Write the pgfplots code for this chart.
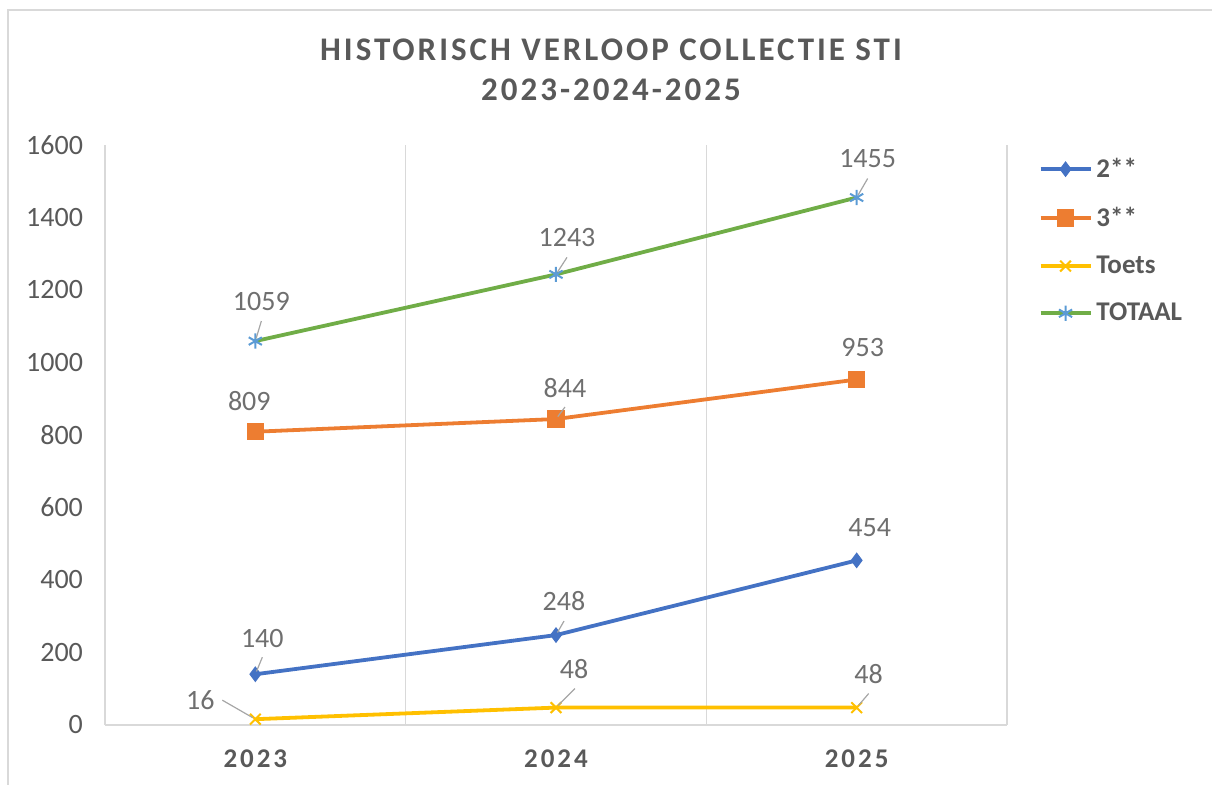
\documentclass[border=0pt]{standalone}
\usepackage{pgfplots}
\pgfplotsset{compat=1.18}
\usepackage{pgfplotstable}
\usepackage{fontspec}
\setmainfont{Carlito}
\newfontfamily\titlefont[LetterSpace=9]{Carlito}
\newfontfamily\xfont[LetterSpace=11]{Carlito}
\usetikzlibrary{calc}
\definecolor{txtgray}{HTML}{595959}
\definecolor{lblgray}{HTML}{6F6F6F}
\definecolor{leadgray}{HTML}{A6A6A6}
\definecolor{gridgray}{HTML}{D9D9D9}
\definecolor{cblue}{HTML}{4472C4}
\definecolor{corange}{HTML}{ED7D31}
\definecolor{cyellow}{HTML}{FFC000}
\definecolor{cgreen}{HTML}{70AD47}
\definecolor{cstar}{HTML}{5B9BD5}

% x y : data ; dx dy : label offset (pt) ; px py : point rel. to label ; lx ly : leader end rel. to label ; ld : leader visible
\pgfplotstableread{
x y dx dy px py lx ly ld
0 140 3.5 18 -3.5 -18 0 -9.5 1
1 248 4 17 -4 -17 0 -10 1
2 454 6.5 16.5 -6.5 -16.5 0 -9 0
}\twostar
\pgfplotstableread{
x y dx dy px py lx ly ld
0 809 -3 15.5 3 -15.5 0 -9 0
1 844 4.5 15.5 -4.5 -15.5 0 -9.5 1
2 953 3 16 -3 -16 0 -9 0
}\threestar
\pgfplotstableread{
x y dx dy px py lx ly ld
0 16 -27.5 9.5 27.5 -9.5 11 0 1
1 48 9 19.5 -9 -19.5 0.5 -10 1
2 48 6 17 -6 -17 0 -10 1
}\toets
\pgfplotstableread{
x y dx dy px py lx ly ld
0 1059 3 20 -3 -20 0 -10 1
1 1243 5.5 18.5 -5.5 -18.5 0 -10 1
2 1455 5.5 19.5 -5.5 -19.5 0 -10 1
}\totaal

\pgfplotsset{
  lbl/.style={
    nodes near coords,
    nodes near coords align=center,
    visualization depends on={\thisrow{dx} \as \ldx},
    visualization depends on={\thisrow{dy} \as \ldy},
    visualization depends on={\thisrow{px} \as \lpx},
    visualization depends on={\thisrow{py} \as \lpy},
    visualization depends on={\thisrow{lx} \as \llx},
    visualization depends on={\thisrow{ly} \as \lly},
    visualization depends on={\thisrow{ld} \as \lld},
    every node near coord/.append style={anchor=center, xshift=\ldx pt, yshift=\ldy pt,
      text=lblgray, font=\fontsize{14}{16}\selectfont, inner sep=0pt,
      append after command={(\tikzlastnode.center) ++(\lpx pt,\lpy pt)
        edge[draw=leadgray, line width=0.6pt, draw opacity=\lld, shorten <=1.5pt]
        ($(\tikzlastnode.center)+(\llx pt,\lly pt)$)}},
  },
}

\begin{document}
\begin{tikzpicture}
\path[use as bounding box] (-52.5pt,-30pt) rectangle (553.5pt,362.5pt);
\draw[gridgray, line width=0.6pt] (-48.5pt,-40pt) -- (-48.5pt,357.5pt) -- (560pt,357.5pt);
\node[anchor=base, text=txtgray, font=\fontsize{16.5}{20}\selectfont\titlefont\bfseries] at (253pt,332pt) {HISTORISCH VERLOOP COLLECTIE STI};
\node[anchor=base, text=txtgray, font=\fontsize{16.5}{20}\selectfont\titlefont\bfseries] at (253pt,312pt) {2023-2024-2025};
\begin{axis}[
  at={(0pt,0pt)}, anchor=south west,
  scale only axis, width=451pt, height=290pt,
  xmin=-0.5, xmax=2.5, ymin=0, ymax=1600,
  xtick={0,1,2}, xticklabels={2023,2024,2025},
  minor xtick={-0.5,0.5,1.5,2.5},
  xminorgrids,
  minor grid style={gridgray, line width=0.75pt},
  ytick={0,200,...,1600},
  extra y ticks={0}, extra y tick labels={},
  extra y tick style={grid=major, major grid style={gridgray, line width=0.75pt}},
  major tick length=0pt, minor tick length=0pt,
  axis line style={draw=none},
  /pgf/number format/assume math mode=true,
  /pgf/number format/1000 sep={},
  yticklabel style={font=\fontsize{14}{16}\selectfont, text=txtgray, xshift=-7.5pt},
  xticklabel style={font=\fontsize{13.5}{16}\selectfont\xfont\bfseries, text=txtgray, anchor=base, yshift=-21.5pt},
  legend cell align=left,
  legend style={at={(1.028,0.992)}, anchor=north west, draw=none, fill=none,
    font=\fontsize{13.5}{16}\selectfont\bfseries, text=txtgray, row sep=9.3pt},
  legend image code/.code={\draw[mark repeat=2,mark phase=2,#1] plot coordinates {(0pt,0pt) (12.5pt,0pt) (25pt,0pt)};},
]
\addplot[cblue, line width=1.9pt, mark=diamond*, mark size=3.6pt, mark options={solid, fill=cblue, draw=cblue, line width=0.5pt}, lbl] table[x=x,y=y]{\twostar};
\addlegendentry{2**}
\addplot[corange, line width=1.9pt, mark=square*, mark size=4.1pt, mark options={solid, fill=corange, draw=corange, line width=0.5pt}, lbl] table[x=x,y=y]{\threestar};
\addlegendentry{3**}
\addplot[cyellow, line width=1.9pt, mark=x, mark size=3.8pt, mark options={solid, draw=cyellow, line width=1pt}, lbl] table[x=x,y=y]{\toets};
\addlegendentry{Toets}
\addplot[cgreen, line width=1.9pt, mark=asterisk, mark size=3.8pt, mark options={solid, draw=cstar, line width=1pt}, lbl] table[x=x,y=y]{\totaal};
\addlegendentry{TOTAAL}
\end{axis}
\end{tikzpicture}
\end{document}
